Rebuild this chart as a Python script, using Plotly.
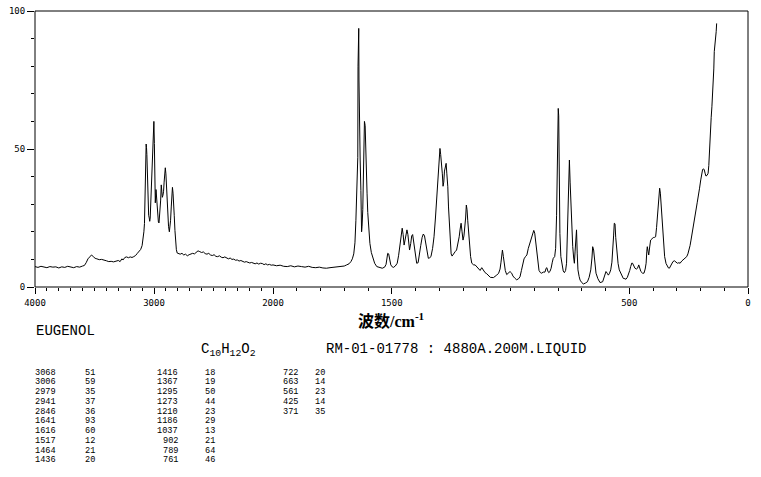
import plotly.graph_objects as go

# ---------------- data ----------------
spectrum_wn = [
    4000, 3975, 3950, 3925, 3900, 3875, 3850, 3825, 3800, 3775, 3750, 3725, 3700, 3675, 3650, 3625,
    3600, 3585, 3570, 3555, 3540, 3525, 3510, 3495, 3480, 3460, 3440, 3420, 3400, 3380, 3360, 3340,
    3320, 3300, 3285, 3270, 3260, 3245, 3230, 3215, 3200, 3185, 3170, 3155, 3140, 3125, 3112, 3100,
    3092, 3085, 3080, 3075, 3070, 3066, 3063, 3060, 3056, 3050, 3045, 3040, 3036, 3032, 3028, 3022,
    3017, 3010, 3006, 3001, 2997, 2993, 2989, 2986, 2983, 2980, 2977, 2972, 2968, 2963, 2958, 2955,
    2950, 2944, 2939, 2935, 2930, 2925, 2920, 2915, 2910, 2905, 2900, 2895, 2890, 2884, 2878, 2871,
    2866, 2861, 2855, 2850, 2845, 2840, 2835, 2830, 2824, 2818, 2812, 2805, 2796, 2780, 2765, 2750,
    2735, 2720, 2705, 2690, 2675, 2660, 2645, 2630, 2615, 2600, 2585, 2570, 2555, 2540, 2525, 2510,
    2495, 2480, 2465, 2450, 2435, 2420, 2405, 2390, 2375, 2360, 2345, 2330, 2315, 2300, 2285, 2270,
    2255, 2240, 2225, 2210, 2195, 2180, 2165, 2150, 2135, 2120, 2105, 2090, 2075, 2060, 2045, 2030,
    2015, 2000,
    1985, 1970, 1955, 1940, 1925, 1910, 1895, 1880, 1865, 1850, 1835, 1820, 1805, 1790, 1775, 1760,
    1745, 1730, 1715, 1700, 1690, 1680, 1672, 1666, 1660, 1655, 1651, 1648, 1645, 1643, 1642, 1641,
    1639, 1638, 1636, 1633, 1630, 1627, 1625, 1622, 1619, 1617, 1615, 1612, 1610, 1607, 1604, 1601,
    1596, 1592, 1586, 1580, 1572, 1563, 1550, 1540, 1530, 1524, 1520, 1517, 1513, 1509, 1504, 1498,
    1493, 1485, 1477, 1471, 1465, 1460, 1456, 1452, 1448, 1444, 1440, 1436, 1432, 1428, 1425, 1420,
    1416, 1412, 1408, 1404, 1400, 1395, 1389, 1384, 1378, 1372, 1367, 1362, 1356, 1350, 1346, 1340,
    1335, 1328, 1322, 1316, 1311, 1306, 1302, 1299, 1297, 1294, 1290, 1287, 1284, 1281, 1278, 1274,
    1271, 1268, 1264, 1261, 1258, 1254, 1250, 1246, 1240, 1233, 1227, 1221, 1216, 1212, 1208, 1204,
    1200, 1196, 1193, 1189, 1186, 1183, 1180, 1176, 1172, 1168, 1163, 1155, 1149, 1140, 1133, 1128,
    1121, 1114, 1107, 1100, 1093, 1085, 1072, 1065, 1058, 1050, 1044, 1040, 1037, 1034, 1030, 1027,
    1022, 1016, 1008, 1002, 995, 990, 982, 974, 966, 960, 954, 949, 943, 937, 931, 925,
    918, 912, 906, 902, 898, 894, 890, 885, 880, 874, 869, 862, 855, 850, 847, 843,
    839, 834, 829, 824, 820, 814, 810, 806, 803, 801, 799, 797, 795, 792, 788, 783,
    778, 773, 768, 764, 761, 758, 755, 752, 749, 746, 742, 738, 734, 731, 728, 725,
    722, 719, 716, 711, 707, 700, 693, 685, 676, 669, 662, 657, 654, 650, 646, 643,
    640, 632, 623, 612, 605, 598, 593, 588, 583, 578, 573, 570, 566, 563, 560, 557,
    552, 547, 542, 535, 525, 518, 514, 508, 504, 498, 494, 489, 486, 481, 476, 470,
    465, 460, 456, 451, 444, 438, 433, 429, 426, 424, 421, 418, 414, 410, 404, 399,
    393, 389, 385, 382, 378, 375, 372, 369, 366, 363, 359, 355, 351, 345, 340, 335,
    331, 326, 321, 316, 310, 304, 297, 291, 286, 279, 272, 265, 258, 253, 248, 244,
    240, 235, 230, 225, 219, 214, 209, 204, 199, 195, 191, 187, 184, 180, 177, 172,
    168, 165, 163, 160, 157, 155, 152, 149, 146, 144, 142, 139, 136, 134, 132,
]
spectrum_int = [
    7.4, 7.1, 7.5, 7.2, 7.0, 7.4, 7.2, 7.3, 6.9, 7.3, 7.1, 7.5, 7.2, 7.0, 7.4, 7.2,
    7.6, 7.8, 8.8, 10.2, 10.9, 11.6, 11.0, 10.4, 10.2, 9.9, 10.0, 9.6, 9.5, 9.2, 9.3, 9.1,
    9.4, 9.6, 9.2, 10.2, 9.8, 10.7, 10.9, 10.6, 10.9, 10.7, 11.0, 11.4, 12.2, 13.0, 13.6, 15.0,
    17.0, 20.0, 23.0, 32.0, 44.0, 51.8, 50.5, 48.0, 38.0, 28.0, 26.0, 25.0, 23.8, 25.0, 30.0, 38.0,
    46.0, 56.0, 59.5, 60.0, 52.0, 43.0, 30.5, 33.0, 35.3, 33.0, 31.5, 28.0, 26.0, 23.5, 23.2, 24.5,
    28.0, 31.5, 37.0, 34.0, 32.5, 33.2, 34.5, 38.0, 41.5, 43.2, 41.0, 35.0, 30.0, 25.0, 22.0, 20.0,
    21.5, 24.0, 29.0, 33.0, 36.1, 34.0, 31.5, 26.0, 20.5, 16.0, 13.5, 12.3, 12.1, 11.9, 12.2, 11.6,
    11.9, 11.3, 11.7, 12.0, 12.2, 12.0, 12.6, 13.1, 12.8, 12.5, 12.7, 12.1, 11.9, 12.2, 11.6, 11.4,
    11.7, 11.1, 11.0, 11.3, 10.8, 10.6, 10.9, 10.4, 10.2, 10.5, 10.0, 10.1, 9.7, 9.8, 9.4, 9.6,
    9.3, 9.0, 9.2, 8.9, 8.7, 8.9, 8.6, 8.4, 8.7, 8.3, 8.6, 8.5, 8.1, 8.4, 8.0, 8.2,
    7.9, 8.0,
    7.7, 7.9, 7.5, 7.4, 7.7, 7.3, 7.6, 7.4, 7.2, 7.5, 7.1, 7.0, 7.2, 6.9, 6.8, 7.0,
    7.1, 7.3, 7.5, 7.6, 8.0, 8.4, 9.2, 10.2, 12.0, 16.0, 24.0, 34.0, 42.0, 47.0, 80.0, 93.7,
    93.7, 75.0, 55.0, 46.0, 35.0, 20.0, 22.0, 28.0, 42.0, 52.0, 60.0, 58.5, 50.0, 42.0, 34.0, 27.0,
    20.0, 15.8, 12.5, 10.4, 8.6, 7.4, 7.0, 6.8, 7.2, 8.2, 10.5, 12.2, 12.0, 10.0, 8.0, 7.3,
    7.1, 7.6, 8.6, 11.5, 16.0, 19.5, 21.3, 19.0, 15.2, 17.0, 19.4, 20.7, 19.0, 14.5, 13.4, 15.8,
    18.5, 19.0, 16.5, 13.0, 10.5, 8.6, 8.8, 11.0, 15.0, 18.0, 19.2, 18.5, 15.8, 12.5, 10.4, 10.6,
    11.0, 14.0, 18.2, 25.0, 32.7, 40.0, 46.0, 47.5, 50.2, 48.0, 45.0, 41.0, 36.5, 38.0, 42.0, 44.5,
    44.8, 41.0, 36.3, 29.0, 23.1, 16.0, 12.0, 11.2, 12.2, 12.8, 13.4, 15.5, 18.2, 21.0, 23.1, 20.0,
    17.0, 18.5, 20.7, 25.0, 29.7, 28.0, 24.0, 19.0, 14.0, 11.0, 8.6, 8.0, 8.0, 7.0, 6.2, 6.0,
    7.0, 5.8, 5.2, 4.8, 4.0, 3.5, 3.4, 3.8, 4.3, 5.0, 6.5, 9.0, 12.0, 13.4, 11.0, 8.6,
    6.0, 4.5, 5.0, 5.6, 5.0, 4.0, 3.2, 2.6, 3.0, 3.7, 6.0, 8.5, 10.2, 11.0, 11.6, 14.0,
    16.0, 18.5, 19.5, 20.5, 19.5, 16.5, 12.5, 8.5, 6.0, 5.2, 5.0, 5.4, 5.4, 6.8, 7.0, 5.8,
    5.2, 5.6, 6.8, 9.0, 10.4, 11.0, 14.0, 26.0, 47.8, 62.0, 64.7, 62.0, 40.0, 19.4, 11.0, 7.4,
    5.8, 5.2, 6.0, 8.6, 20.0, 35.0, 46.0, 46.0, 38.0, 29.0, 20.0, 14.6, 10.5, 8.6, 13.0, 20.7,
    20.7, 12.0, 6.2, 3.8, 2.5, 1.6, 1.1, 1.4, 1.9, 3.5, 6.2, 10.5, 14.6, 13.4, 10.0, 7.0,
    5.0, 3.0, 1.6, 1.9, 3.5, 5.6, 5.0, 4.3, 5.0, 6.2, 9.0, 12.2, 18.5, 23.1, 22.9, 18.0,
    12.2, 8.5, 6.2, 5.0, 3.1, 3.0, 2.8, 3.5, 4.3, 6.0, 7.4, 8.7, 8.6, 7.4, 6.8, 6.5,
    6.8, 8.0, 7.0, 5.6, 5.0, 5.0, 6.5, 8.6, 13.0, 14.6, 13.0, 11.6, 14.5, 17.0, 17.5, 17.9,
    18.0, 18.2, 21.5, 25.5, 30.0, 34.5, 35.8, 34.0, 30.0, 24.0, 18.2, 14.0, 11.0, 8.5, 7.4, 6.9,
    6.8, 7.6, 8.6, 9.2, 9.5, 9.0, 8.6, 8.8, 8.6, 9.4, 10.0, 10.5, 11.0, 12.0, 13.4, 15.0,
    17.0, 20.0, 23.1, 25.5, 27.9, 30.5, 32.7, 35.8, 38.8, 41.0, 42.6, 42.8, 42.4, 41.0, 40.2, 40.5,
    41.2, 44.0, 48.4, 53.0, 58.1, 61.5, 65.3, 69.5, 73.8, 79.0, 85.3, 87.5, 89.5, 92.5, 95.5,
]

x_ticks_left = [4000, 3000, 2000]
x_ticks_right = [1500, 500, 0]
y_ticks = [0, 50, 100]

compound = "EUGENOL"
formula = "C<sub>10</sub>H<sub>12</sub>O<sub>2</sub>"
sample_info = "RM-01-01778 : 4880A.200M.LIQUID"
axis_title = "<b>波数/cm<sup>-1</sup></b>"

peak_wn_1 = ["3068", "3006", "2979", "2941", "2846", "1641", "1616", "1517", "1464", "1436"]
peak_int_1 = ["51", "59", "35", "37", "36", "93", "60", "12", "21", "20"]
peak_wn_2 = ["1416", "1367", "1295", "1273", "1210", "1186", "1037", "902", "789", "761"]
peak_int_2 = ["18", "19", "50", "44", "23", "29", "13", "21", "64", "46"]
peak_wn_3 = ["722", "663", "561", "425", "371"]
peak_int_3 = ["20", "14", "23", "14", "35"]

# ---------------- figure ----------------
W, H = 761, 477
L, R, T, B = 35, 748, 11, 287          # plot box in pixels
split = 238 / (R - L)                   # 4000-2000 uses half the scale of 2000-0

def px(xp):
    return (xp - L) / (R - L)

def py(yp):
    return (B - yp) / (B - T)

lx = [w for w in spectrum_wn if w >= 2000]
ly = [v for w, v in zip(spectrum_wn, spectrum_int) if w >= 2000]
rx = [w for w in spectrum_wn if w <= 2000]
ry = [v for w, v in zip(spectrum_wn, spectrum_int) if w <= 2000]

fig = go.Figure()
line = dict(color="black", width=1)
fig.add_trace(go.Scatter(x=lx, y=ly, mode="lines", line=line, xaxis="x", yaxis="y", hoverinfo="skip"))
fig.add_trace(go.Scatter(x=rx, y=ry, mode="lines", line=line, xaxis="x2", yaxis="y", hoverinfo="skip"))

tickfont = dict(family="DejaVu Sans Mono, Liberation Mono, monospace", size=9, color="black")
minor_x = dict(tickmode="linear", tick0=0, dtick=100, ticks="outside", ticklen=3,
               tickcolor="black", tickwidth=1, showgrid=False)
common_x = dict(ticks="outside", ticklen=6, tickcolor="black", tickwidth=1, showgrid=False,
                zeroline=False, showline=False, tickfont=tickfont, anchor="y", tickmode="array",
                minor=minor_x, ticklabelstandoff=1, automargin=False)

fig.update_layout(
    width=W, height=H,
    margin=dict(l=L, r=W - R, t=T, b=H - B, pad=0, autoexpand=False),
    paper_bgcolor="white", plot_bgcolor="white",
    showlegend=False,
    xaxis=dict(domain=[0, split], range=[4000, 2000], tickvals=x_ticks_left,
               ticktext=[str(v) for v in x_ticks_left], **common_x),
    xaxis2=dict(domain=[split, 1], range=[2000, 0], tickvals=x_ticks_right,
                ticktext=[str(v) for v in x_ticks_right], **common_x),
    yaxis=dict(domain=[0, 1], range=[0, 100], tickmode="array", tickvals=y_ticks,
               ticktext=[str(v) for v in y_ticks], ticks="outside", ticklen=7,
               tickcolor="black", tickwidth=1, showgrid=False, zeroline=False,
               showline=False, tickfont=tickfont, anchor="x", automargin=False,
               minor=dict(tickmode="linear", tick0=0, dtick=10, ticks="outside", ticklen=3,
                          tickcolor="black", tickwidth=1, showgrid=False)),
    shapes=[dict(type="rect", xref="paper", yref="paper", x0=0, x1=1, y0=0, y1=1,
                 line=dict(color="black", width=1), fillcolor="rgba(0,0,0,0)")],
)

mono = "Liberation Mono, DejaVu Sans Mono, monospace"
anns = []
anns.append(dict(text=axis_title, x=px(391), y=py(320), xref="paper", yref="paper",
                 xanchor="center", yanchor="middle", showarrow=False,
                 font=dict(family="Liberation Serif, Noto Sans CJK SC, serif", size=16, color="black")))
anns.append(dict(text=compound, x=px(34), y=py(331), xref="paper", yref="paper",
                 xanchor="left", yanchor="middle", showarrow=False,
                 font=dict(family=mono, size=14, color="black")))
anns.append(dict(text=formula, x=px(199), y=py(350), xref="paper", yref="paper",
                 xanchor="left", yanchor="middle", showarrow=False,
                 font=dict(family=mono, size=14, color="black")))
anns.append(dict(text=sample_info, x=px(324), y=py(349), xref="paper", yref="paper",
                 xanchor="left", yanchor="middle", showarrow=False,
                 font=dict(family=mono, size=14, color="black")))

row0, drow = 372.5, 9.75
tfont = dict(family=mono, size=8.6, color="black")
columns = [
    (peak_wn_1, 34, "left"), (peak_int_1, 84, "left"),
    (peak_wn_2, 179, "right"), (peak_int_2, 204, "left"),
    (peak_wn_3, 299, "right"), (peak_int_3, 314, "left"),
]
for vals, xpos, anchor in columns:
    for i, v in enumerate(vals):
        anns.append(dict(text=v, x=px(xpos), y=py(row0 + i * drow), xref="paper", yref="paper",
                         xanchor=anchor, yanchor="middle", showarrow=False, font=tfont,
                         borderpad=0))
fig.update_layout(annotations=anns)

fig.write_html("out.html")
